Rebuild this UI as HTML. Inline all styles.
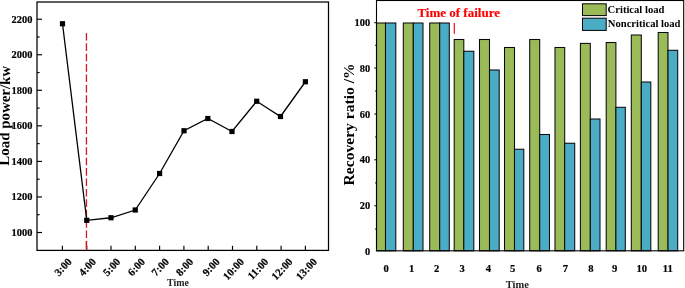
<!DOCTYPE html>
<html><head><meta charset="utf-8"><title>Load power and recovery ratio</title>
<style>
html,body{margin:0;padding:0;background:#fff;}
svg{display:block;}
text{font-family:"Liberation Serif","Times New Roman",serif;font-weight:bold;}
</style></head><body>
<svg width="685" height="288" viewBox="0 0 685 288">
<rect x="0" y="0" width="685" height="288" fill="#fff"/>

<g id="left-chart">
<rect x="37.0" y="2.0" width="291.5" height="248.4" fill="none" stroke="#000" stroke-width="1.25"/>
<line x1="37.0" y1="232.50" x2="42.0" y2="232.50" stroke="#000" stroke-width="1.15"/>
<text x="32.4" y="235.90" font-size="10.4" text-anchor="end" stroke="#000" stroke-width="0.2">1000</text>
<line x1="37.0" y1="214.72" x2="39.6" y2="214.72" stroke="#000" stroke-width="1.15"/>
<line x1="37.0" y1="196.95" x2="42.0" y2="196.95" stroke="#000" stroke-width="1.15"/>
<text x="32.4" y="200.35" font-size="10.4" text-anchor="end" stroke="#000" stroke-width="0.2">1200</text>
<line x1="37.0" y1="179.18" x2="39.6" y2="179.18" stroke="#000" stroke-width="1.15"/>
<line x1="37.0" y1="161.40" x2="42.0" y2="161.40" stroke="#000" stroke-width="1.15"/>
<text x="32.4" y="164.80" font-size="10.4" text-anchor="end" stroke="#000" stroke-width="0.2">1400</text>
<line x1="37.0" y1="143.62" x2="39.6" y2="143.62" stroke="#000" stroke-width="1.15"/>
<line x1="37.0" y1="125.85" x2="42.0" y2="125.85" stroke="#000" stroke-width="1.15"/>
<text x="32.4" y="129.25" font-size="10.4" text-anchor="end" stroke="#000" stroke-width="0.2">1600</text>
<line x1="37.0" y1="108.08" x2="39.6" y2="108.08" stroke="#000" stroke-width="1.15"/>
<line x1="37.0" y1="90.30" x2="42.0" y2="90.30" stroke="#000" stroke-width="1.15"/>
<text x="32.4" y="93.70" font-size="10.4" text-anchor="end" stroke="#000" stroke-width="0.2">1800</text>
<line x1="37.0" y1="72.53" x2="39.6" y2="72.53" stroke="#000" stroke-width="1.15"/>
<line x1="37.0" y1="54.75" x2="42.0" y2="54.75" stroke="#000" stroke-width="1.15"/>
<text x="32.4" y="58.15" font-size="10.4" text-anchor="end" stroke="#000" stroke-width="0.2">2000</text>
<line x1="37.0" y1="36.98" x2="39.6" y2="36.98" stroke="#000" stroke-width="1.15"/>
<line x1="37.0" y1="19.20" x2="42.0" y2="19.20" stroke="#000" stroke-width="1.15"/>
<text x="32.4" y="22.60" font-size="10.4" text-anchor="end" stroke="#000" stroke-width="0.2">2200</text>
<line x1="62.40" y1="250.4" x2="62.40" y2="245.8" stroke="#000" stroke-width="1.15"/>
<text transform="translate(72.40,262.2) rotate(-47)" font-size="10.8" text-anchor="end" stroke="#000" stroke-width="0.2">3:00</text>
<line x1="86.70" y1="250.4" x2="86.70" y2="245.8" stroke="#000" stroke-width="1.15"/>
<text transform="translate(96.70,262.2) rotate(-47)" font-size="10.8" text-anchor="end" stroke="#000" stroke-width="0.2">4:00</text>
<line x1="111.00" y1="250.4" x2="111.00" y2="245.8" stroke="#000" stroke-width="1.15"/>
<text transform="translate(121.00,262.2) rotate(-47)" font-size="10.8" text-anchor="end" stroke="#000" stroke-width="0.2">5:00</text>
<line x1="135.30" y1="250.4" x2="135.30" y2="245.8" stroke="#000" stroke-width="1.15"/>
<text transform="translate(145.70,262.2) rotate(-47)" font-size="10.8" text-anchor="end" stroke="#000" stroke-width="0.2">6:00</text>
<line x1="159.60" y1="250.4" x2="159.60" y2="245.8" stroke="#000" stroke-width="1.15"/>
<text transform="translate(169.60,262.2) rotate(-47)" font-size="10.8" text-anchor="end" stroke="#000" stroke-width="0.2">7:00</text>
<line x1="183.90" y1="250.4" x2="183.90" y2="245.8" stroke="#000" stroke-width="1.15"/>
<text transform="translate(193.90,262.2) rotate(-47)" font-size="10.8" text-anchor="end" stroke="#000" stroke-width="0.2">8:00</text>
<line x1="208.20" y1="250.4" x2="208.20" y2="245.8" stroke="#000" stroke-width="1.15"/>
<text transform="translate(220.40,262.2) rotate(-47)" font-size="10.8" text-anchor="end" stroke="#000" stroke-width="0.2">9:00</text>
<line x1="232.50" y1="250.4" x2="232.50" y2="245.8" stroke="#000" stroke-width="1.15"/>
<text transform="translate(244.70,262.2) rotate(-47)" font-size="10.8" text-anchor="end" stroke="#000" stroke-width="0.2">10:00</text>
<line x1="256.80" y1="250.4" x2="256.80" y2="245.8" stroke="#000" stroke-width="1.15"/>
<text transform="translate(269.00,262.2) rotate(-47)" font-size="10.8" text-anchor="end" stroke="#000" stroke-width="0.2">11:00</text>
<line x1="281.10" y1="250.4" x2="281.10" y2="245.8" stroke="#000" stroke-width="1.15"/>
<text transform="translate(293.30,262.2) rotate(-47)" font-size="10.8" text-anchor="end" stroke="#000" stroke-width="0.2">12:00</text>
<line x1="305.40" y1="250.4" x2="305.40" y2="245.8" stroke="#000" stroke-width="1.15"/>
<text transform="translate(317.60,262.2) rotate(-47)" font-size="10.8" text-anchor="end" stroke="#000" stroke-width="0.2">13:00</text>
<line x1="86.45" y1="32.9" x2="86.45" y2="250.4" stroke="#d01c1f" stroke-width="1.3" stroke-dasharray="7.6 2.8"/>
<line x1="86.45" y1="241" x2="86.45" y2="250.4" stroke="#d01c1f" stroke-width="1.3"/>
<polyline fill="none" stroke="#000" stroke-width="1.3" points="62.5,23.75 86.75,220.3 111.0,217.75 135.25,210 159.6,173.5 184.0,130.75 207.8,118.5 232,131.5 256.7,101.25 280.5,116.5 305.4,81.75"/>
<rect x="59.90" y="21.15" width="5.2" height="5.2" fill="#000"/>
<rect x="84.15" y="217.70" width="5.2" height="5.2" fill="#000"/>
<rect x="108.40" y="215.15" width="5.2" height="5.2" fill="#000"/>
<rect x="132.65" y="207.40" width="5.2" height="5.2" fill="#000"/>
<rect x="157.00" y="170.90" width="5.2" height="5.2" fill="#000"/>
<rect x="181.40" y="128.15" width="5.2" height="5.2" fill="#000"/>
<rect x="205.20" y="115.90" width="5.2" height="5.2" fill="#000"/>
<rect x="229.40" y="128.90" width="5.2" height="5.2" fill="#000"/>
<rect x="254.10" y="98.65" width="5.2" height="5.2" fill="#000"/>
<rect x="277.90" y="113.90" width="5.2" height="5.2" fill="#000"/>
<rect x="302.80" y="79.15" width="5.2" height="5.2" fill="#000"/>
<text x="167.1" y="286.3" font-size="11" textLength="21.9" lengthAdjust="spacingAndGlyphs" fill="#222">Time</text>
<text transform="translate(9.6,115.8) rotate(-89.3)" font-size="14.9" text-anchor="middle">Load power/kw</text>
</g>
<g id="right-chart">
<rect x="376.5" y="23.0" width="9.00" height="227.80" fill="#9bbb59" stroke="#0a0a0a" stroke-width="1.05"/>
<rect x="385.5" y="23.0" width="10.30" height="227.80" fill="#4bacc6" stroke="#0a0a0a" stroke-width="1.05"/>
<rect x="403.3" y="23.0" width="10.00" height="227.80" fill="#9bbb59" stroke="#0a0a0a" stroke-width="1.05"/>
<rect x="413.3" y="23.0" width="9.70" height="227.80" fill="#4bacc6" stroke="#0a0a0a" stroke-width="1.05"/>
<rect x="429.7" y="23.0" width="10.00" height="227.80" fill="#9bbb59" stroke="#0a0a0a" stroke-width="1.05"/>
<rect x="439.7" y="23.0" width="9.60" height="227.80" fill="#4bacc6" stroke="#0a0a0a" stroke-width="1.05"/>
<rect x="454.2" y="39.5" width="9.60" height="211.30" fill="#9bbb59" stroke="#0a0a0a" stroke-width="1.05"/>
<rect x="463.8" y="51.25" width="10.00" height="199.55" fill="#4bacc6" stroke="#0a0a0a" stroke-width="1.05"/>
<rect x="479.5" y="39.5" width="10.00" height="211.30" fill="#9bbb59" stroke="#0a0a0a" stroke-width="1.05"/>
<rect x="489.5" y="70.0" width="9.70" height="180.80" fill="#4bacc6" stroke="#0a0a0a" stroke-width="1.05"/>
<rect x="504.5" y="47.5" width="10.00" height="203.30" fill="#9bbb59" stroke="#0a0a0a" stroke-width="1.05"/>
<rect x="514.5" y="149.25" width="9.30" height="101.55" fill="#4bacc6" stroke="#0a0a0a" stroke-width="1.05"/>
<rect x="529.7" y="39.5" width="10.00" height="211.30" fill="#9bbb59" stroke="#0a0a0a" stroke-width="1.05"/>
<rect x="539.7" y="134.5" width="9.80" height="116.30" fill="#4bacc6" stroke="#0a0a0a" stroke-width="1.05"/>
<rect x="555.0" y="47.5" width="9.70" height="203.30" fill="#9bbb59" stroke="#0a0a0a" stroke-width="1.05"/>
<rect x="564.7" y="143.25" width="10.00" height="107.55" fill="#4bacc6" stroke="#0a0a0a" stroke-width="1.05"/>
<rect x="580.4" y="43.4" width="9.90" height="207.40" fill="#9bbb59" stroke="#0a0a0a" stroke-width="1.05"/>
<rect x="590.3" y="119.0" width="9.70" height="131.80" fill="#4bacc6" stroke="#0a0a0a" stroke-width="1.05"/>
<rect x="606.2" y="42.5" width="9.70" height="208.30" fill="#9bbb59" stroke="#0a0a0a" stroke-width="1.05"/>
<rect x="615.9" y="107.3" width="9.40" height="143.50" fill="#4bacc6" stroke="#0a0a0a" stroke-width="1.05"/>
<rect x="631.3" y="35.0" width="10.00" height="215.80" fill="#9bbb59" stroke="#0a0a0a" stroke-width="1.05"/>
<rect x="641.3" y="82.0" width="9.50" height="168.80" fill="#4bacc6" stroke="#0a0a0a" stroke-width="1.05"/>
<rect x="658.2" y="32.5" width="9.80" height="218.30" fill="#9bbb59" stroke="#0a0a0a" stroke-width="1.05"/>
<rect x="668.0" y="50.3" width="9.70" height="200.50" fill="#4bacc6" stroke="#0a0a0a" stroke-width="1.05"/>
<rect x="376.5" y="0.5" width="307.20000000000005" height="250.3" fill="none" stroke="#000" stroke-width="1.1"/>
<line x1="375.1" y1="229.10" x2="376.5" y2="229.10" stroke="#000" stroke-width="1"/>
<line x1="374.3" y1="205.80" x2="376.5" y2="205.80" stroke="#000" stroke-width="1"/>
<text x="370.1" y="209.30" font-size="10.4" text-anchor="end" stroke="#000" stroke-width="0.2">20</text>
<line x1="375.1" y1="182.90" x2="376.5" y2="182.90" stroke="#000" stroke-width="1"/>
<line x1="374.3" y1="159.80" x2="376.5" y2="159.80" stroke="#000" stroke-width="1"/>
<text x="370.1" y="163.30" font-size="10.4" text-anchor="end" stroke="#000" stroke-width="0.2">40</text>
<line x1="375.1" y1="137.00" x2="376.5" y2="137.00" stroke="#000" stroke-width="1"/>
<line x1="374.3" y1="114.00" x2="376.5" y2="114.00" stroke="#000" stroke-width="1"/>
<text x="370.1" y="117.50" font-size="10.4" text-anchor="end" stroke="#000" stroke-width="0.2">60</text>
<line x1="375.1" y1="91.00" x2="376.5" y2="91.00" stroke="#000" stroke-width="1"/>
<line x1="374.3" y1="68.00" x2="376.5" y2="68.00" stroke="#000" stroke-width="1"/>
<text x="370.1" y="71.50" font-size="10.4" text-anchor="end" stroke="#000" stroke-width="0.2">80</text>
<line x1="375.1" y1="45.30" x2="376.5" y2="45.30" stroke="#000" stroke-width="1"/>
<line x1="374.3" y1="22.70" x2="376.5" y2="22.70" stroke="#000" stroke-width="1"/>
<text x="370.1" y="26.20" font-size="10.4" text-anchor="end" stroke="#000" stroke-width="0.2">100</text>
<text x="370.1" y="254.5" font-size="10.4" text-anchor="end" stroke="#000" stroke-width="0.2">0</text>
<text x="386.2" y="271.7" font-size="10.6" text-anchor="middle" stroke="#000" stroke-width="0.2">0</text>
<text x="411.7" y="271.7" font-size="10.6" text-anchor="middle" stroke="#000" stroke-width="0.2">1</text>
<text x="436.7" y="271.7" font-size="10.6" text-anchor="middle" stroke="#000" stroke-width="0.2">2</text>
<text x="462.2" y="271.7" font-size="10.6" text-anchor="middle" stroke="#000" stroke-width="0.2">3</text>
<text x="488.3" y="271.7" font-size="10.6" text-anchor="middle" stroke="#000" stroke-width="0.2">4</text>
<text x="512.7" y="271.7" font-size="10.6" text-anchor="middle" stroke="#000" stroke-width="0.2">5</text>
<text x="539.2" y="271.7" font-size="10.6" text-anchor="middle" stroke="#000" stroke-width="0.2">6</text>
<text x="565.5" y="271.7" font-size="10.6" text-anchor="middle" stroke="#000" stroke-width="0.2">7</text>
<text x="590.8" y="271.7" font-size="10.6" text-anchor="middle" stroke="#000" stroke-width="0.2">8</text>
<text x="614.7" y="271.7" font-size="10.6" text-anchor="middle" stroke="#000" stroke-width="0.2">9</text>
<text x="641.7" y="271.7" font-size="10.6" text-anchor="middle" stroke="#000" stroke-width="0.2">10</text>
<text x="667.8" y="271.7" font-size="10.6" text-anchor="middle" stroke="#000" stroke-width="0.2">11</text>
<text x="517.3" y="287.6" font-size="10.5" text-anchor="middle" fill="#222">Time</text>
<text transform="translate(354.4,124.4) rotate(-90)" font-size="15.6" text-anchor="middle">Recovery ratio /%</text>
<text x="417.4" y="16.8" font-size="13" fill="#ff0000" stroke="#ff0000" stroke-width="0.15">Time of failure</text>
<line x1="454.3" y1="23" x2="454.3" y2="33.8" stroke="#f5080c" stroke-width="1.2"/>
<rect x="582.5" y="3.8" width="23.7" height="11.8" fill="#9bbb59" stroke="#000" stroke-width="1"/>
<rect x="582.5" y="18.2" width="23.7" height="12.2" fill="#4bacc6" stroke="#000" stroke-width="1"/>
<text x="607.6" y="13.3" font-size="10.6">Critical load</text>
<text x="607.8" y="27.3" font-size="10.6">Noncritical load</text>
</g>
</svg></body></html>
